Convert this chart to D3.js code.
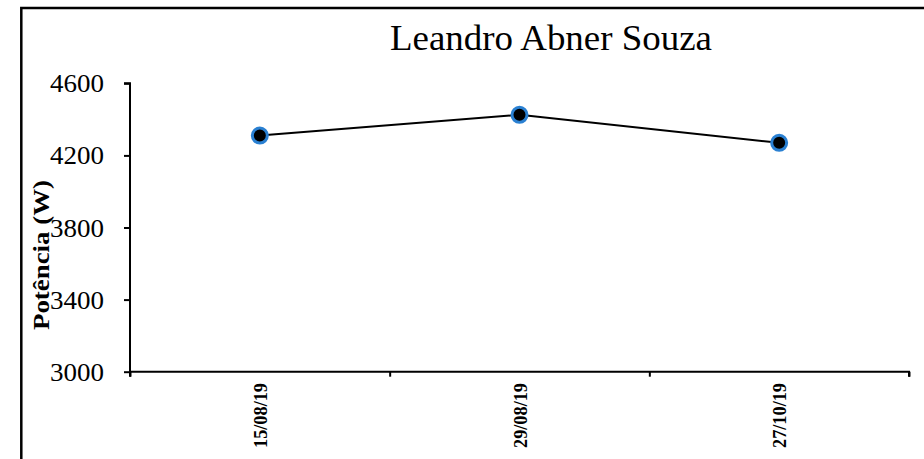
<!DOCTYPE html>
<html>
<head>
<meta charset="utf-8">
<script src="https://cdn.jsdelivr.net/npm/d3@7"></script>
<style>
  body { margin: 0; background: #fff; }
</style>
</head>
<body>
<svg id="chart" width="924" height="459"></svg>
<script>
// dados
const datas = ["15/08/19", "29/08/19", "27/10/19"];
const potencia = [4310, 4425, 4270];
const yTicks = [3000, 3400, 3800, 4200, 4600];

const fonte = "Liberation Serif";
const svg = d3.select("#chart");

const area = {
    left: 130,
    right: 909,
    top: 83.3,
    bottom: 371.7
};

// moldura (corta na direita e em baixo, como no original)
svg.append("rect")
    .attr("x", 21.3)
    .attr("y", 8)
    .attr("width", 940)
    .attr("height", 480)
    .attr("fill", "none")
    .attr("stroke", "#000")
    .attr("stroke-width", 2.5);

// escalas
const scaleX = d3.scaleBand()
    .domain(datas)
    .range([area.left, area.right])
    .padding(0);

const scaleEdge = d3.scaleLinear()
    .domain([0, datas.length])
    .range([area.left, area.right]);

const scaleY = d3.scaleLinear()
    .domain([3000, 4600])
    .range([area.bottom, area.top]);

// eixo Y
const gy = svg.append("g")
    .attr("transform", `translate(${area.left}, 0)`)
    .call(d3.axisLeft(scaleY).tickValues(yTicks).tickSize(6).tickPadding(20).tickFormat(d3.format("d")));
gy.attr("font-family", fonte);
gy.select(".domain").attr("stroke-width", 2).attr("d", `M-6,${area.top}H0V${area.bottom}`);
gy.selectAll(".tick line").attr("stroke-width", 2);
gy.selectAll(".tick text")
    .attr("font-family", fonte)
    .attr("font-size", 25)
    .attr("fill", "#000")
    .attr("textLength", 54)
    .attr("lengthAdjust", "spacingAndGlyphs")
    .attr("dy", "0.34em");

// eixo X (marcas nos limites das categorias)
const gx = svg.append("g")
    .attr("transform", `translate(0, ${area.bottom})`)
    .call(d3.axisBottom(scaleEdge).tickValues(d3.range(datas.length + 1)).tickSize(5).tickFormat(""));
gx.select(".domain").attr("stroke-width", 2).attr("d", `M${area.left},5V0H${area.right}V5`);
gx.selectAll(".tick line").attr("stroke-width", 2);

// rótulos das datas, verticais
svg.append("g")
    .selectAll("text")
    .data(datas)
    .join("text")
    .attr("transform", d => `translate(${scaleX(d) + scaleX.bandwidth() / 2 + 7}, 383) rotate(-90)`)
    .attr("text-anchor", "end")
    .attr("font-family", fonte)
    .attr("font-size", 19)
    .attr("font-weight", "bold")
    .attr("textLength", 65)
    .attr("lengthAdjust", "spacingAndGlyphs")
    .attr("fill", "#000")
    .text(d => d);

// título
svg.append("text")
    .attr("x", 551)
    .attr("y", 50)
    .attr("text-anchor", "middle")
    .attr("font-family", fonte)
    .attr("font-size", 35)
    .attr("textLength", 322)
    .attr("lengthAdjust", "spacingAndGlyphs")
    .attr("fill", "#000")
    .text("Leandro Abner Souza");

// título do eixo Y
svg.append("text")
    .attr("transform", "translate(49, 255) rotate(-90)")
    .attr("text-anchor", "middle")
    .attr("font-family", fonte)
    .attr("font-size", 23)
    .attr("font-weight", "bold")
    .attr("textLength", 150)
    .attr("lengthAdjust", "spacingAndGlyphs")
    .attr("fill", "#000")
    .text("Potência (W)");

// linha
const line = d3.line()
    .x((d, i) => scaleX(datas[i]) + scaleX.bandwidth() / 2)
    .y(d => scaleY(d));

svg.append("path")
    .datum(potencia)
    .attr("fill", "none")
    .attr("stroke", "#000")
    .attr("stroke-width", 2)
    .attr("d", line);

// marcadores
svg.append("g")
    .selectAll("circle")
    .data(potencia)
    .join("circle")
    .attr("cx", (d, i) => scaleX(datas[i]) + scaleX.bandwidth() / 2)
    .attr("cy", d => scaleY(d))
    .attr("r", 7.5)
    .attr("fill", "#000")
    .attr("stroke", "#2a80d2")
    .attr("stroke-width", 3);
</script>
</body>
</html>
